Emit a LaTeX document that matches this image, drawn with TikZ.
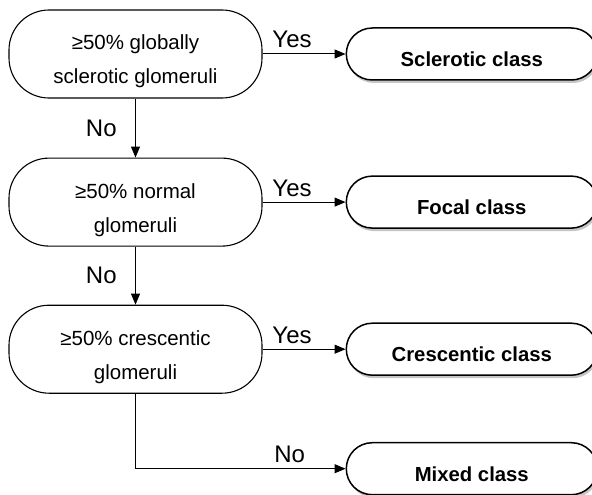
\documentclass[tikz,border=0pt]{standalone}
\usepackage{fontspec}
\setmainfont{Liberation Sans}
\usetikzlibrary{arrows.meta,positioning,shadows}

\begin{document}
\begin{tikzpicture}[
    x=1pt, y=-1pt,
    node distance=59pt and 83pt,
    decision/.style={draw, line width=1.1pt, rounded corners=40pt, align=center,
        minimum width=253pt, minimum height=88pt, inner sep=4pt,
        font=\fontsize{20.5}{34}\selectfont, text height=60pt, text depth=0pt},
    result/.style={draw, line width=1.5pt, rounded corners=26pt, fill=white,
        minimum width=251pt, minimum height=52pt, inner sep=2pt,
        font=\fontsize{20.3}{24}\selectfont\bfseries, text height=25pt, text depth=0pt,
        drop shadow={shadow xshift=1.5pt, shadow yshift=-3pt, opacity=0.45}},
    line/.style={-{Triangle[length=11pt,width=9pt]}, line width=1pt},
    lbl/.style={font=\fontsize{24}{28}\selectfont}
]
    \useasboundingbox (0,0) rectangle (592,495);

    \node[decision] (sclerotic) at (135.5,54) {≥50\% globally\\sclerotic glomeruli};
    \node[decision, below=of sclerotic] (normal) {≥50\% normal\\glomeruli};
    \node[decision, below=58pt of normal] (crescentic) {≥50\% crescentic\\glomeruli};

    \node[result, right=of sclerotic] (sclclass) {Sclerotic class};
    \node[result, right=of normal] (focclass) {Focal class};
    \node[result, right=of crescentic] (creclass) {Crescentic class};
    \node[result, below=66pt of creclass] (mixclass) {Mixed class};

    \draw[line] (sclerotic) -- node[lbl, above=2pt, xshift=-12pt] (yes1) {Yes} (sclclass);
    \draw[line] (normal) -- node[lbl, above=2pt, xshift=-12pt] (yes2) {Yes} (focclass);
    \draw[line] (crescentic) -- node[lbl, above=2pt, xshift=-12pt] (yes3) {Yes} (creclass);

    \draw[line] (sclerotic) -- node[lbl, left=15pt] (no1) {No} (normal);
    \draw[line] (normal) -- node[lbl, left=15pt] (no2) {No} (crescentic);
    \draw[line] (crescentic) |- node[lbl, pos=0.867, above=2pt] (no3) {No} (mixclass);
\end{tikzpicture}
\end{document}
